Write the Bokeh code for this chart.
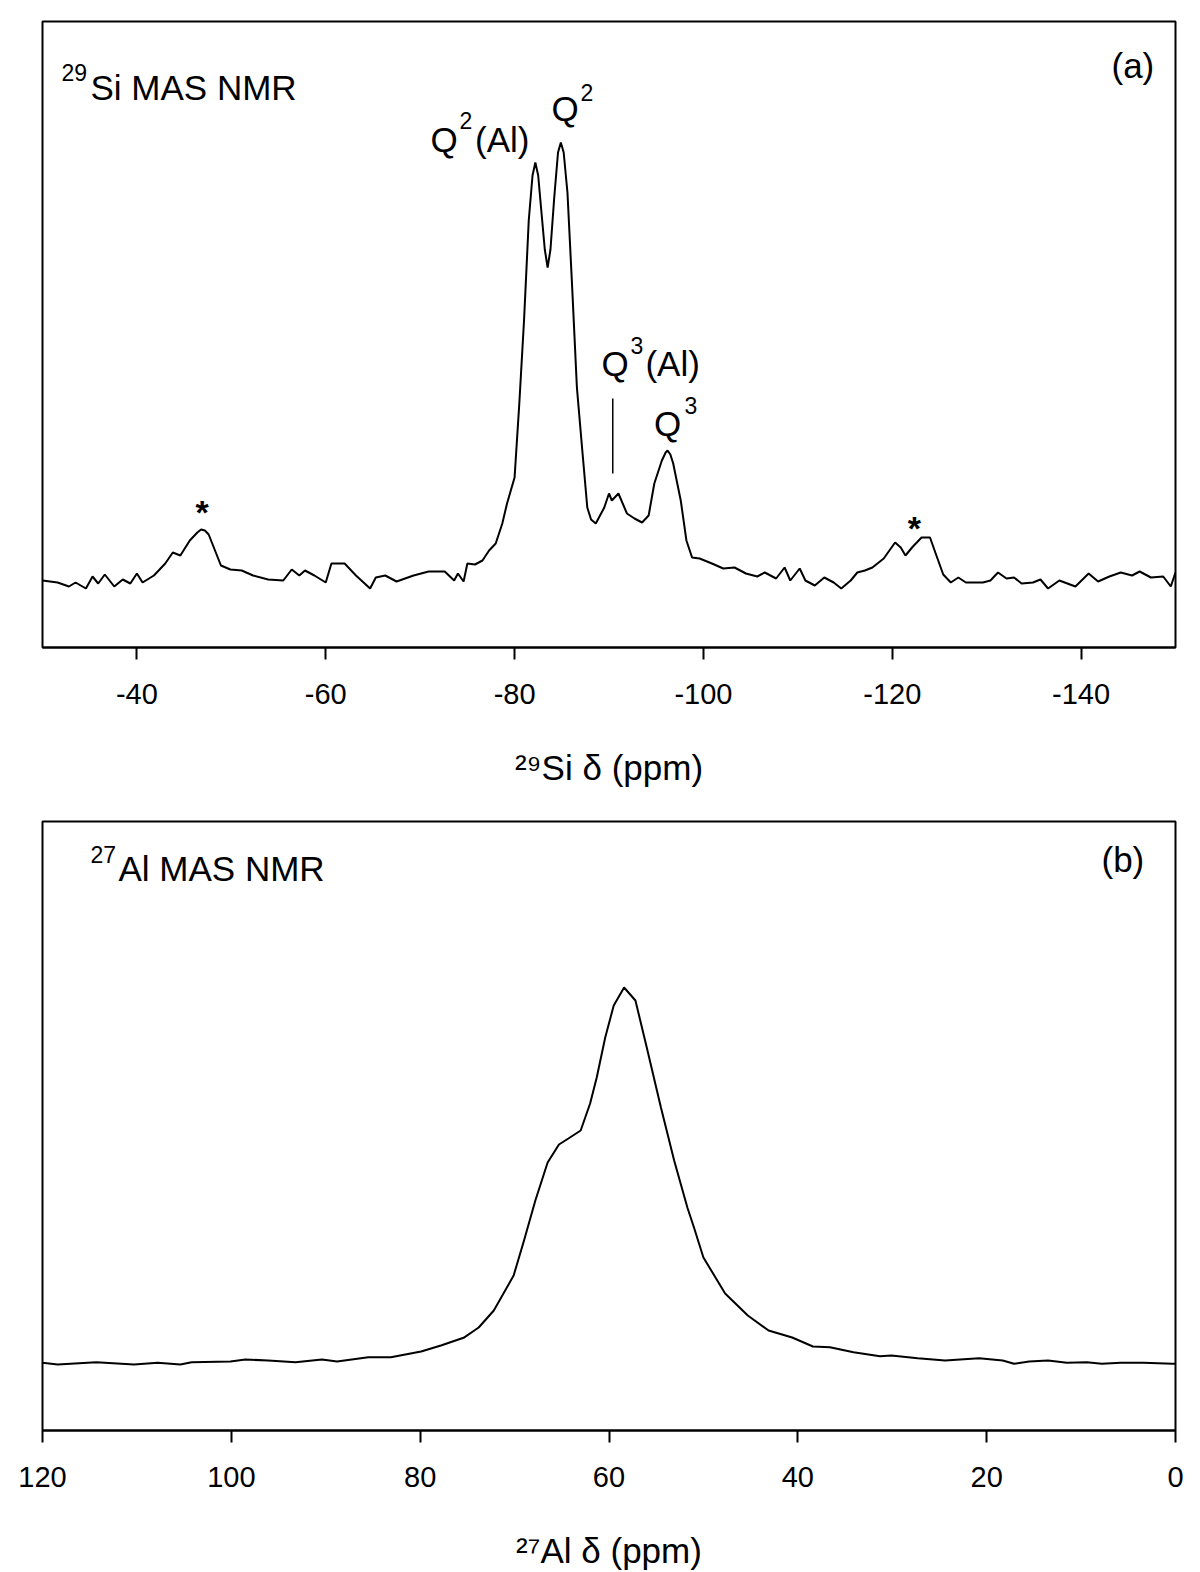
from bokeh.plotting import figure
from bokeh.models import Range1d, FixedTicker, Label
from bokeh.layouts import column
from bokeh.embed import file_html
from bokeh.resources import INLINE

# ---------------- data: 29Si MAS NMR (panel a) ----------------
si_ppm = [-30.0, -31.6, -32.8, -33.5, -34.6, -35.3, -35.9, -36.6, -37.6, -38.5, -39.3,
          -40.0, -40.6, -41.8, -43.0, -43.8, -44.6, -45.6, -46.4, -46.8, -47.2, -47.6, -48.9, -49.9,
          -51.1, -52.3, -53.9, -55.5, -56.4, -57.2, -57.8, -58.8, -60.0, -60.6, -62.0,
          -63.2, -64.7, -65.3, -66.3, -67.5, -69.3, -70.9, -72.6, -73.6, -74.0, -74.6,
          -75.0, -75.8, -76.6, -77.3, -78.0, -78.7, -79.2, -80.0, -80.5, -81.0, -81.5,
          -81.9, -82.2, -82.5, -82.8, -83.2, -83.5, -83.8, -84.2, -84.6, -84.9, -85.2,
          -85.6, -86.1, -86.6, -87.2, -87.7, -88.1, -88.6,
          -89.5, -90.0, -90.3, -91.0, -91.9, -92.7, -93.5, -94.2, -94.8, -95.6, -96.0, -96.2,
          -96.5, -96.8, -97.6, -98.2, -98.8, -99.6, -100.9, -102.1, -103.3, -104.5, -105.7,
          -106.5, -107.7, -108.6, -109.2, -110.2, -110.8, -111.8, -112.8, -113.8, -114.6,
          -115.6, -116.3, -117.1, -117.9, -119.1, -120.3, -120.9, -121.4, -122.1, -123.1,
          -124.0, -124.6, -125.4, -126.2, -127.0, -127.8, -129.6, -130.4, -131.2, -132.1,
          -132.9, -133.7, -134.9, -135.7, -136.5, -137.7, -139.4, -140.8, -141.8, -143.0,
          -144.2, -145.4, -146.2, -147.4, -148.7, -149.5, -150.0]
si_int = [67, 65, 61, 65, 59, 71, 64, 73, 61, 68, 64,
          74, 65, 72, 84, 95, 92, 107, 115, 118, 117, 113, 82, 78,
          77, 72, 68, 67, 78, 72, 77, 72, 65, 84, 84,
          72, 59, 70, 72, 66, 72, 76, 76, 67, 74, 66,
          84, 83, 87, 97, 104, 124, 144, 170, 244, 327, 427,
          472, 485, 472, 440, 398, 380, 398, 450, 495, 505, 495,
          455, 360, 260, 194, 140, 128, 124,
          140, 154, 147, 154, 134, 129, 125, 132, 164, 187, 195, 197,
          193, 184, 147, 107, 90, 89, 84, 79, 80, 74, 71,
          75, 69, 80, 67, 79, 67, 62, 70, 65, 59,
          67, 75, 77, 80, 89, 105, 100, 92, 100, 110,
          110, 94, 73, 65, 70, 65, 65, 67, 75, 69,
          70, 64, 65, 68, 59, 67, 61, 74, 66, 71,
          75, 72, 76, 70, 71, 61, 75]
si_ticks = [-40, -60, -80, -100, -120, -140]
q3al_marker_ppm = [-90.4]
q3al_marker_low = [174]
q3al_marker_high = [249]

# ---------------- data: 27Al MAS NMR (panel b) ----------------
al_ppm = [120.0, 118.4, 114.3, 110.3, 107.8, 105.4, 104.2, 100.1, 98.5, 96.1, 93.2,
          90.4, 88.8, 85.5, 83.1, 79.9, 77.8, 75.4, 73.8, 72.2, 70.1, 69.0, 67.8,
          66.5, 65.3, 64.3, 63.0, 62.0, 61.3, 60.4, 59.5, 58.4, 57.2, 56.0, 54.5,
          53.1, 51.7, 51.0, 50.0, 47.7, 45.3, 43.1, 40.6, 38.4, 36.6, 34.1, 31.3,
          30.1, 27.3, 24.4, 20.8, 18.3, 17.1, 15.5, 13.5, 11.5, 9.4, 7.8, 5.8,
          3.4, 0.3, 0.0]
al_int = [67.7, 66, 68.3, 66, 67.7, 66, 68.3, 69, 71, 70, 68.3,
          71, 69, 73.3, 73.3, 79, 85, 92.7, 103, 120, 155, 190, 230,
          268, 286, 292, 300, 327, 353, 393, 425, 443, 430, 383, 323,
          270, 223, 203, 173, 137, 115, 100, 93, 84, 83.3, 78.3, 74.3,
          75, 72.3, 70, 72.3, 70, 66.7, 69, 70, 67.7, 68.3, 66.7, 67.7,
          67.7, 66.7, 66.7]
al_ticks = [120, 100, 80, 60, 40, 20, 0]

FONT = "Liberation Sans"


def make_fig(x_start, x_end, y_top, ticks, height, top, bottom, title):
    p = figure(width=1200, height=height,
               x_range=Range1d(x_start, x_end), y_range=Range1d(0, y_top),
               output_backend="svg", toolbar_location=None, y_axis_location=None,
               min_border_left=42, min_border_right=25, min_border_top=top,
               min_border_bottom=bottom)
    p.xgrid.visible = False
    p.ygrid.visible = False
    p.outline_line_color = "black"
    p.outline_line_width = 2
    p.outline_line_alpha = 1
    p.background_fill_color = "white"
    p.border_fill_color = "white"
    ax = p.xaxis[0]
    ax.ticker = FixedTicker(ticks=ticks)
    ax.major_label_overrides = {t: str(t) for t in ticks}
    ax.minor_tick_line_color = None
    ax.major_tick_in = 0
    ax.major_tick_out = 12
    ax.major_tick_line_width = 2
    ax.major_tick_line_color = "black"
    ax.axis_line_width = 2
    ax.axis_line_color = "black"
    ax.major_label_text_font = FONT
    ax.major_label_text_font_size = "29px"
    ax.major_label_text_color = "black"
    ax.major_label_standoff = 24
    ax.axis_label = title
    ax.axis_label_text_font = FONT
    ax.axis_label_text_font_size = "35px"
    ax.axis_label_text_font_style = "normal"
    ax.axis_label_text_color = "black"
    ax.axis_label_standoff = 41
    return p


def lab(p, x, y, text, size, bold=False, align="left"):
    # y is the wanted baseline; the renderer centres text on y, so shift it
    p.add_layout(Label(x=x, y=y + 0.35 * size, text=text, text_font=FONT,
                       text_font_size=f"{size}px", text_color="black",
                       text_baseline="alphabetic", text_align=align,
                       text_font_style="bold" if bold else "normal"))


# ---------------- panel (a) ----------------
p1 = make_fig(-30, -150, 626, si_ticks, 808, 21, 161, "\u00b2\u2079Si \u03b4 (ppm)")
p1.line(si_ppm, si_int, line_color="black", line_width=2)
p1.segment(x0=q3al_marker_ppm, y0=q3al_marker_low, x1=q3al_marker_ppm,
           y1=q3al_marker_high, line_color="black", line_width=1.5)

lab(p1, -32.01, 567, "29", 23)
lab(p1, -35.08, 548, "Si MAS NMR", 35)
lab(p1, -143.22, 570, "(a)", 35)
lab(p1, -71.09, 496, "Q", 35)
lab(p1, -74.16, 519, "2", 23)
lab(p1, -75.81, 496, "(Al)", 35)
lab(p1, -83.91, 527, "Q", 35)
lab(p1, -86.98, 547, "2", 23)
lab(p1, -89.20, 272, "Q", 35)
lab(p1, -92.27, 294, "3", 23)
lab(p1, -93.86, 272, "(Al)", 35)
lab(p1, -94.77, 212, "Q", 35)
lab(p1, -97.99, 234, "3", 23)
lab(p1, -46.91, 124, "*", 34, bold=True, align="center")
lab(p1, -122.33, 108, "*", 34, bold=True, align="center")

# ---------------- panel (b) ----------------
p2 = make_fig(120, 0, 609, al_ticks, 764, 13, 142, "\u00b2\u2077Al \u03b4 (ppm)")
p2.line(al_ppm, al_int, line_color="black", line_width=2)

lab(p2, 114.92, 568, "27", 23)
lab(p2, 111.95, 550, "Al MAS NMR", 35)
lab(p2, 7.84, 559, "(b)", 35)

layout = column(p1, p2, spacing=0)
open("out.html", "w").write(file_html(layout, INLINE))
